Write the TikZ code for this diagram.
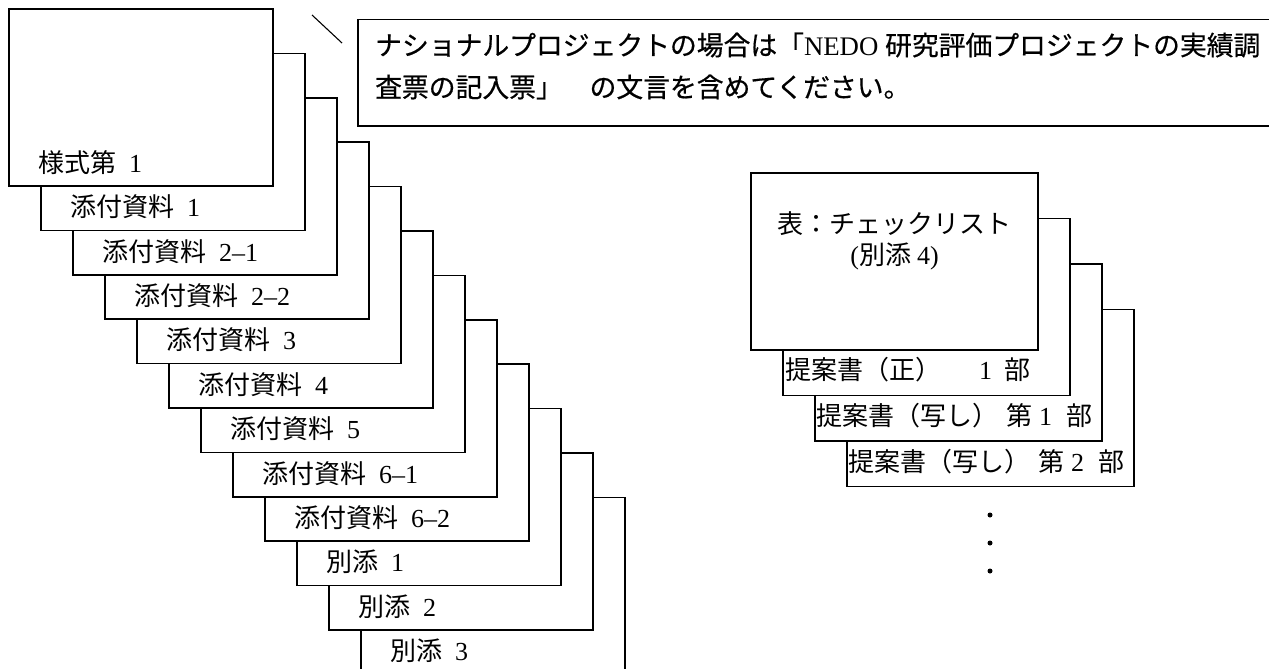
\documentclass[tikz,border=0pt]{standalone}
\usepackage{fontspec}
\setmainfont{Liberation Serif}
\newfontfamily\jp{Noto Sans CJK JP}
\newfontfamily\jpb[FakeBold=0.5]{Noto Sans CJK JP}
\newcommand\jtext[1]{{\jp #1}}
\newcommand\jbold[1]{{\jpb #1}}
\tikzset{
  sheet/.style={draw=black, line width=1.5pt, fill=white, rectangle, inner sep=0pt, outer sep=0pt,
    minimum width=264pt, minimum height=177pt, anchor=north west},
  rsheet/.style={sheet, minimum width=287pt},
  lab/.style={anchor=west, inner sep=0pt, font=\fontsize{26}{30}\selectfont},
  calllab/.style={anchor=west, inner sep=0pt, font=\fontsize{26.8}{30}\selectfont},
  clab/.style={anchor=center, inner sep=0pt, font=\fontsize{26}{30}\selectfont},
  callbox/.style={draw=black, line width=1.5pt, fill=white, rectangle, inner sep=0pt,
    minimum width=1000pt, minimum height=106pt, anchor=north west},
  dotmark/.style={circle, fill=black, inner sep=0pt, minimum size=5pt},
}
\begin{document}
\begin{tikzpicture}[x=1pt,y=-1pt]
\useasboundingbox (0,0) rectangle (1269,669);
\clip (0,0) rectangle (1269,669);
\fill[white] (0,0) rectangle (1269,669);
% left stack
\foreach \i/\t in {
  11/{\jtext{別添}\hspace{13pt}3},
  10/{\jtext{別添}\hspace{13pt}2},
  9/{\jtext{別添}\hspace{13pt}1},
  8/{\jtext{添付資料}\hspace{13pt}6–2},
  7/{\jtext{添付資料}\hspace{13pt}6–1},
  6/{\jtext{添付資料}\hspace{13pt}5},
  5/{\jtext{添付資料}\hspace{13pt}4},
  4/{\jtext{添付資料}\hspace{13pt}3},
  3/{\jtext{添付資料}\hspace{13pt}2–2},
  2/{\jtext{添付資料}\hspace{13pt}2–1},
  1/{\jtext{添付資料}\hspace{13pt}1},
  0/{\jtext{様式第}\hspace{13pt}1}} {
  \pgfmathsetmacro\lx{9+32*\i}
  \pgfmathsetmacro\ty{9+44.4*\i}
  \node[sheet] (s\i) at (\lx,\ty) {};
  \node[lab] (l\i) at ({\lx+29},{\ty+153.5}) {\t};
}
% right stack
\node[rsheet] (r3) at (847,309.5) {};
\node[lab] (rl3) at (848,461.5) {\jtext{提案書（写し）}\hspace{8pt}\jtext{第}\hspace{7pt}2\hspace{14pt}\jtext{部}};
\node[rsheet] (r2) at (815,264) {};
\node[lab] (rl2) at (816,416) {\jtext{提案書（写し）}\hspace{8pt}\jtext{第}\hspace{7pt}1\hspace{14pt}\jtext{部}};
\node[rsheet] (r1) at (783,218.5) {};
\node[lab] (rl1) at (785,369.5) {\jtext{提案書（正）}\hspace{38pt}1\hspace{12pt}\jtext{部}};
\node[rsheet] (r0) at (751,173) {};
\node[clab] (rt1) at (894.5,224) {\jtext{表：チェックリスト}};
\node[clab] (rt2) at (894.5,256) {(\jtext{別添}\hspace{6pt}4)};
% dots
\node[dotmark] (d1) at (990,515) {};
\node[dotmark] (d2) at (990,543) {};
\node[dotmark] (d3) at (990,571) {};
% callout
\node[callbox] (call) at (357,19) {};
\node[calllab] (ct1) at (375,45) {\jbold{ナショナルプロジェクトの場合は「}NEDO \jbold{研究評価プロジェクトの実績調}};
\node[calllab] (ct2) at (375,87) {\jbold{査票の記入票」　の文言を含めてください。}};
\coordinate (q1) at (312,15);
\coordinate (q2) at (342,43);
\draw[line width=1.1pt] (q1) -- (q2);
\end{tikzpicture}
\end{document}
